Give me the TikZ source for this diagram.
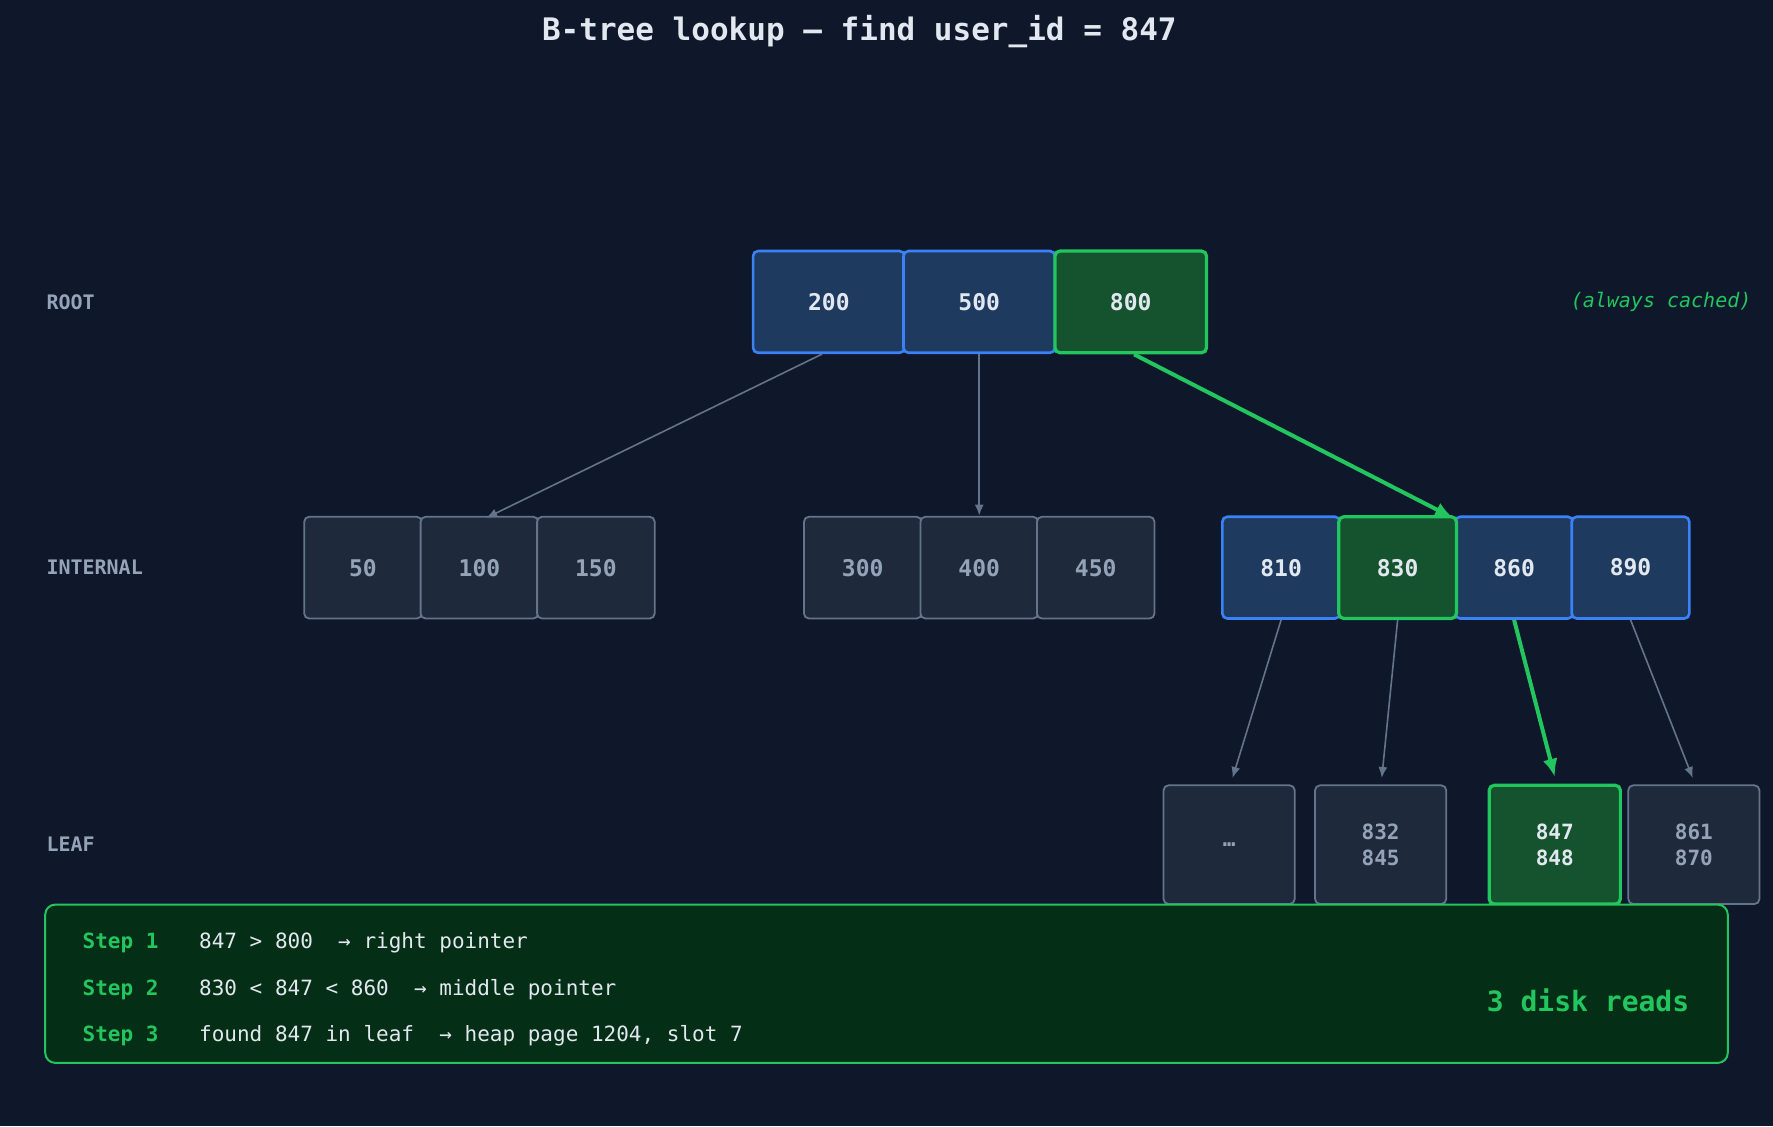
\documentclass[tikz,border=0pt]{standalone}
\usepackage{fontspec}
\setmonofont{DejaVu Sans Mono}
\usetikzlibrary{arrows.meta}
\definecolor{bg}{HTML}{0F172A}
\definecolor{bfill}{HTML}{1E3A5F}
\definecolor{bstroke}{HTML}{3B82F6}
\definecolor{gfill}{HTML}{14532D}
\definecolor{gstroke}{HTML}{22C55E}
\definecolor{nfill}{HTML}{1E293B}
\definecolor{nstroke}{HTML}{64748B}
\definecolor{gtext}{HTML}{94A3B8}
\definecolor{wtext}{HTML}{E2E8F0}
\definecolor{sfill}{HTML}{052E16}
\begin{document}
\begin{tikzpicture}[x=1.1307pt,y=-1.1307pt,
  box/.style={rounded corners=5pt,inner sep=0pt,font=\ttfamily\bfseries\fontsize{23}{26}\selectfont},
  blue/.style={box,fill=bfill,draw=bstroke,line width=2.6pt,text=wtext},
  green/.style={box,fill=gfill,draw=gstroke,line width=3.2pt,text=wtext},
  gray/.style={box,fill=nfill,draw=nstroke,line width=1.8pt,text=gtext},
  rootn/.style={minimum width=134*1.1307pt,minimum height=90*1.1307pt},
  intn/.style={minimum width=104*1.1307pt,minimum height=90*1.1307pt},
  leafn/.style={minimum width=116*1.1307pt,minimum height=105*1.1307pt,align=center,font=\ttfamily\bfseries\fontsize{21}{26}\selectfont},
  lvl/.style={anchor=west,text=gtext,font=\ttfamily\bfseries\fontsize{20}{24}\selectfont},
  garr/.style={draw=nstroke,line width=1.6pt,-{Latex[length=11pt,width=9pt]}},
  karr/.style={draw=gstroke,line width=4pt,-{Latex[length=18pt,width=15pt]}},
  steplbl/.style={anchor=west,text=gstroke,font=\ttfamily\bfseries\fontsize{21}{24}\selectfont},
  steptxt/.style={anchor=west,text=wtext,font=\ttfamily\fontsize{21}{24}\selectfont}]
\fill[bg] (0,0) rectangle (1568,996);
\useasboundingbox (0,0) rectangle (1568,996);
\node[text=wtext,font=\ttfamily\bfseries\fontsize{31}{34}\selectfont] (title) at (760,28) {B-tree lookup — find user\_id = 847};
\node[lvl] (lroot) at (38,267) {ROOT};
\node[lvl] (lint) at (38,502) {INTERNAL};
\node[lvl] (lleaf) at (38,747) {LEAF};
\node[anchor=east,text=gstroke,font=\ttfamily\itshape\fontsize{20}{24}\selectfont] (cached) at (1552,267) {(always cached)};
% root
\node[blue,rootn] (r200) at (733,267) {200};
\node[blue,rootn] (r500) at (866,267) {500};
\node[green,rootn] (r800) at (1000,267) {800};
% internal
\node[gray,intn] (i50) at (321,502) {50};
\node[gray,intn] (i100) at (424,502) {100};
\node[gray,intn] (i150) at (527,502) {150};
\node[gray,intn] (i300) at (763,502) {300};
\node[gray,intn] (i400) at (866,502) {400};
\node[gray,intn] (i450) at (969,502) {450};
\node[blue,intn] (i810) at (1133,502) {810};
\node[blue,intn] (i860) at (1339,502) {860};
\node[blue,intn] (i890) at (1442,502) {890};
\node[green,intn] (i830) at (1236,502) {830};
% leaf
\node[gray,leafn] (l0) at (1087,747) {…};
\node[gray,leafn] (l1) at (1221,747) {832\\845};
\node[gray,leafn] (l3) at (1498,747) {861\\870};
\node[green,leafn] (l2) at (1375,747) {847\\848};
% arrows
\coordinate (t100) at (430,458);
\coordinate (t500) at (866,456);
\coordinate (t830) at (1285,458);
\coordinate (tl0) at (1090,688);
\coordinate (tl1) at (1222,688);
\coordinate (tl2) at (1375,687);
\coordinate (tl3) at (1497,688);
\draw[garr] (r200.south) ++(-6,0) -- (t100);
\draw[garr] (r500.south) -- (t500);
\draw[karr] (r800.south) ++(3,0) -- (t830);
\draw[garr] (i810.south) -- (tl0);
\draw[garr] (i830.south) -- (tl1);
\draw[karr] (i860.south) -- (tl2);
\draw[garr] (i890.south) -- (tl3);
% steps
\node[draw=gstroke,fill=sfill,line width=2pt,rounded corners=10pt,minimum width=1488*1.1307pt,minimum height=140*1.1307pt] (steps) at (784,870) {};
\node[steplbl] (s1) at (70,834) {Step 1};
\node[steplbl] (s2) at (70,875) {Step 2};
\node[steplbl] (s3) at (70,916) {Step 3};
\node[steptxt] (t1) at (173,834) {847 > 800 \ → right pointer};
\node[steptxt] (t2) at (173,875) {830 < 847 < 860 \ → middle pointer};
\node[steptxt] (t3) at (173,916) {found 847 in leaf \ → heap page 1204, slot 7};
\node[anchor=east,text=gstroke,font=\ttfamily\bfseries\fontsize{28}{32}\selectfont] (reads) at (1497,885) {3 disk reads};
\end{tikzpicture}
\end{document}
